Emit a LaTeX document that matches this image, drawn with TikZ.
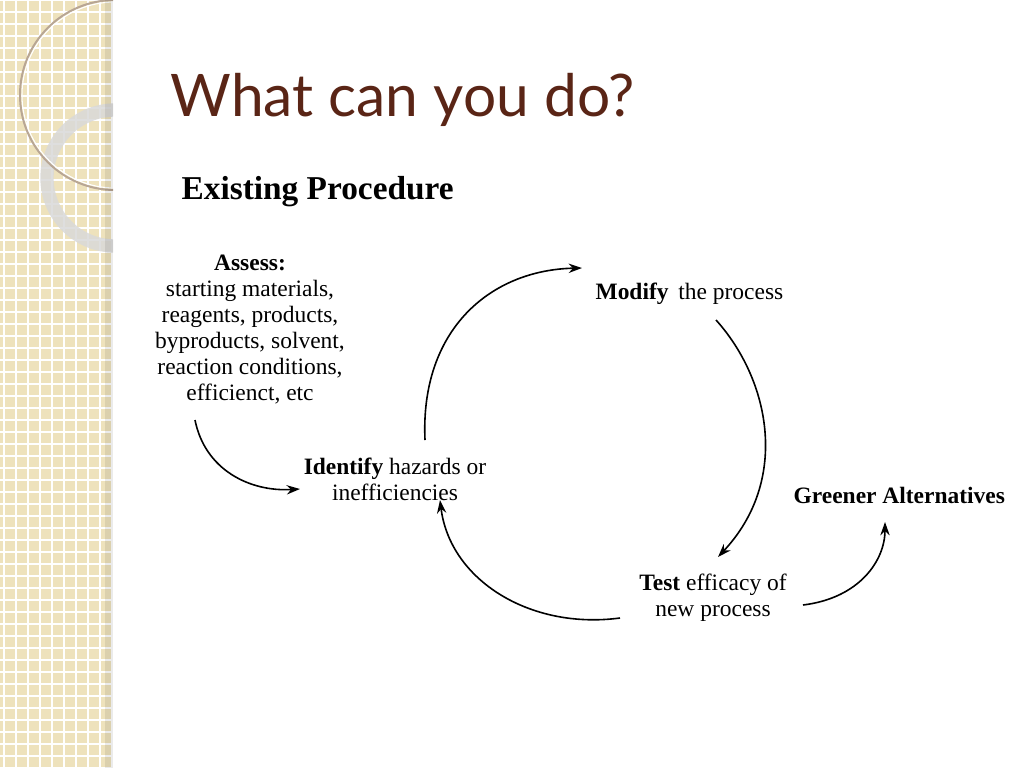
\documentclass[tikz,border=0pt]{standalone}
\usepackage{fontspec}
\setmainfont{Liberation Serif}
\newfontfamily\titlefont{Lato}
\usetikzlibrary{arrows.meta}
\definecolor{bgbeige}{HTML}{EEE2BC}
\definecolor{titlebrown}{HTML}{5A2516}
\begin{document}
\begin{tikzpicture}[x=0.75pt,y=-0.75pt,
  lbl/.style={font=\fontsize{17.6}{19.5}\selectfont, align=center, inner sep=1pt},
  arr/.style={line width=1.2pt, -{Stealth[length=10pt,width=7pt]}}]
\useasboundingbox (0,0) rectangle (1024,768);
\fill[white] (0,0) rectangle (1024,768);
\begin{scope}
\clip (0,0) rectangle (113,768);
\fill[bgbeige] (0,0) rectangle (113,768);
\foreach \i in {0,12,...,768} \draw[white, line width=0.9pt] (0,\i) -- (113,\i);
\foreach \i in {4,16,...,113} \draw[white, line width=0.9pt] (\i,0) -- (\i,768);
\draw[gray!30, line width=10pt, opacity=0.85] (115,178) circle (68);
\draw[brown!40!gray!70, line width=1.5pt] (115,95) circle (95);
\draw[white, line width=0.8pt] (115,95) circle (93);
\fill[black, opacity=0.08] (105,0) rectangle (113,768);
\end{scope}
\node[anchor=west, text=titlebrown, font=\titlefont\fontsize{44}{50}\selectfont] (title) at (166,100) {What can you do?};
\node[anchor=west, font=\bfseries\fontsize{25}{30}\selectfont] (ep) at (177,192) {Existing Procedure};
\node[lbl] (assess) at (250,330) {\textbf{Assess:}\\starting materials,\\reagents, products,\\byproducts, solvent,\\reaction conditions,\\efficienct, etc};
\node[lbl] (identify) at (395,479) {\textbf{Identify} hazards or\\inefficiencies};
\node[lbl, anchor=west] (modify) at (594,294) {\textbf{Modify}\, the process};
\node[lbl] (test) at (713,598) {\textbf{Test} efficacy of\\new process};
\node[lbl, anchor=west] (green) at (792,495) {\textbf{Greener Alternatives}};
\draw[arr] (195,420) .. controls (205,470) and (250,492) .. (300,489);
\draw[arr] (425,440) .. controls (420,330) and (490,270) .. (582,268);
\draw[arr] (716,320) .. controls (770,380) and (790,480) .. (718,557);
\draw[arr] (620,618) .. controls (530,630) and (450,580) .. (440,500);
\draw[arr] (803,605) .. controls (860,598) and (885,560) .. (885,522);
\end{tikzpicture}
\end{document}
